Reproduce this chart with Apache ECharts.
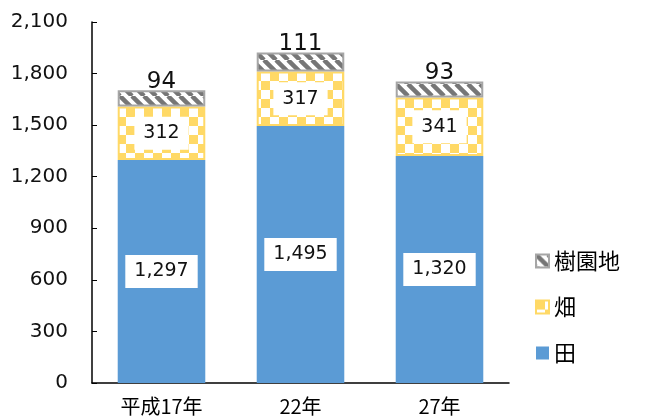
<!DOCTYPE html>
<html>
<head>
<meta charset="utf-8">
<script src="https://cdn.jsdelivr.net/npm/echarts@6/dist/echarts.min.js"></script>
<style>
  html, body { margin: 0; padding: 0; background: #fff; }
  #chart { width: 646px; height: 416px; }
</style>
</head>
<body>
<div id="chart"></div>
<script>
const years = ['平成17年', '22年', '27年'];
const paddy = [1297, 1495, 1320];     // 田
const field = [312, 317, 341];        // 畑
const orchard = [94, 111, 93];        // 樹園地
const yTicks = { min: 0, max: 2100, interval: 300 };

const FONT = '"DejaVu Sans", "Noto Sans CJK JP", sans-serif';
const CJK = '"Noto Sans CJK JP", sans-serif';

// hatch patterns
function stripes() {
  const c = document.createElement('canvas');
  c.width = 12; c.height = 12;
  const g = c.getContext('2d');
  g.fillStyle = '#fff'; g.fillRect(0, 0, 12, 12);
  g.strokeStyle = '#767676'; g.lineWidth = 4.5;
  for (let k = -12; k <= 24; k += 12) {
    g.beginPath(); g.moveTo(k, 0); g.lineTo(k + 12, 12); g.stroke();
  }
  return c;
}
function checker() {
  const s = 9;
  const c = document.createElement('canvas');
  c.width = s * 2; c.height = s * 2;
  const g = c.getContext('2d');
  g.fillStyle = '#fff'; g.fillRect(0, 0, s * 2, s * 2);
  g.fillStyle = '#ffd966';
  g.fillRect(0, 0, s, s); g.fillRect(s, s, s, s);
  return c;
}

const boxLabel = {
  show: true, position: 'inside', color: '#111', fontSize: 19, fontFamily: FONT,
  backgroundColor: '#fff', padding: [8, 9, 6, 9],
  formatter: p => p.value.toLocaleString('en-US')
};

const chart = echarts.init(document.getElementById('chart'));
chart.setOption({
  animation: false,
  textStyle: { fontFamily: FONT },
  grid: { left: 92, right: 137, top: 22, bottom: 30 },
  legend: {
    data: ['樹園地', '畑', '田'], orient: 'vertical', left: 530, top: 245,
    itemWidth: 13, itemHeight: 13, itemGap: 24, icon: 'rect',
    textStyle: { fontSize: 22, color: '#000', fontFamily: CJK }
  },
  xAxis: {
    type: 'category', data: years,
    axisLine: { lineStyle: { color: '#000', width: 1.5 } },
    axisTick: { show: false },
    axisLabel: { color: '#000', fontSize: 20, margin: 13, fontFamily: CJK }
  },
  yAxis: {
    type: 'value', min: yTicks.min, max: yTicks.max, interval: yTicks.interval,
    axisLine: { show: true, lineStyle: { color: '#000', width: 1.5 } },
    axisTick: { show: true, inside: true, length: 5, lineStyle: { color: '#000' } },
    splitLine: { show: false },
    axisLabel: { color: '#111', fontSize: 20, margin: 24, formatter: v => v.toLocaleString('en-US') }
  },
  series: [
    {
      name: '田', type: 'bar', stack: 'a', data: paddy, barWidth: '63%',
      itemStyle: { color: '#5b9bd5' },
      label: boxLabel
    },
    {
      name: '畑', type: 'bar', stack: 'a', data: field,
      itemStyle: { color: { image: checker(), repeat: 'repeat' }, borderColor: '#ffd966', borderWidth: 2 },
      label: boxLabel
    },
    {
      name: '樹園地', type: 'bar', stack: 'a', data: orchard,
      itemStyle: { color: { image: stripes(), repeat: 'repeat' }, borderColor: '#a6a6a6', borderWidth: 2 },
      label: { show: true, position: 'top', distance: -3, color: '#111', fontSize: 23, fontFamily: FONT }
    }
  ]
});
</script>
</body>
</html>
